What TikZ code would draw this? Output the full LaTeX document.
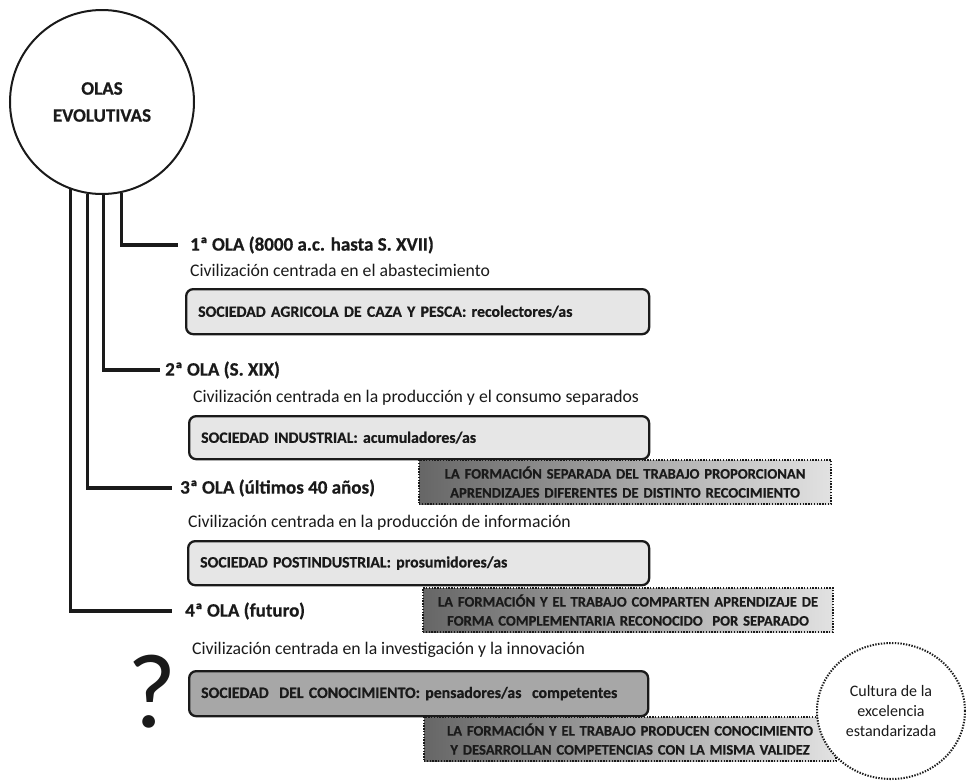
\documentclass[tikz,border=0pt]{standalone}
\usepackage{fontspec}
\setmainfont{Carlito}[BoldFeatures={FakeBold=0.6}]
\usetikzlibrary{shapes.geometric}

\definecolor{ink}{HTML}{1A1A1A}
\definecolor{boxfill}{HTML}{E6E6E6}
\definecolor{darkfill}{HTML}{A7A7A7}
\definecolor{shadeL}{HTML}{666666}
\definecolor{shadeR}{HTML}{E2E2E2}

\tikzset{
  conn/.style={line width=3.2pt, draw=ink},
  wavetitle/.style={anchor=west, inner sep=0pt, text=ink,
    font=\fontsize{19}{22}\selectfont\bfseries},
  civline/.style={anchor=west, inner sep=0pt, text=ink,
    font=\fontsize{17.7}{21}\selectfont},
  socbox/.style={draw=ink, line width=2.3pt, rounded corners=7pt, fill=boxfill,
    anchor=north west, inner xsep=12pt, inner ysep=0pt, align=left, text=ink,
    font=\fontsize{15.8}{18}\selectfont\bfseries},
  notebox/.style={draw=ink, line width=2.1pt, dash pattern=on 1.4pt off 1.4pt,
    left color=shadeL, right color=shadeR, anchor=north west,
    inner xsep=4pt, inner ysep=0pt, align=center, text=ink,
    font=\fontsize{14.6}{19}\selectfont\bfseries}
}

\begin{document}
\begin{tikzpicture}[x=1pt, y=-1pt]
  % canvas
  \fill[white] (0,0) rectangle (966,782);
  \useasboundingbox (0,0) rectangle (966,782);

  % central circle
  \node[circle, draw=ink, line width=2pt, fill=white, minimum size=184pt,
        align=center, text=ink, font=\fontsize{19}{27}\selectfont\bfseries]
        (olas) at (102,102) {OLAS\\EVOLUTIVAS};

  % wave titles
  \node[wavetitle] (t1) at (190,245) {1ª OLA (8000 a.c. hasta S. XVII)};
  \node[wavetitle] (t2) at (165,370) {2ª OLA (S. XIX)};
  \node[wavetitle] (t3) at (180,488) {3ª OLA (últimos 40 años)};
  \node[wavetitle] (t4) at (185,611) {4ª OLA (futuro)};

  % branches from the circle to each wave
  \draw[conn] (olas.-78)  |- ([xshift=-12pt]t1.west);
  \draw[conn] (olas.-89.4) |- ([xshift=-5pt]t2.west);
  \draw[conn] (olas.-99.4) |- ([xshift=-8pt]t3.west);
  \draw[conn] (olas.-110.4) |- ([xshift=-13pt]t4.west);

  % civilisation lines
  \node[civline] (c1) at (190,270) {Civilización centrada en el abastecimiento};
  \node[civline] (c2) at (193,398) {Civilización centrada en la producción y el consumo separados};
  \node[civline] (c3) at (188,523) {Civilización centrada en la producción de información};
  \node[civline] (c4) at (192,650) {Civilización centrada en la investigación y la innovación};

  % society boxes
  \node[socbox, text width=439pt, minimum height=45pt] (b1) at (185,288)
    {SOCIEDAD AGRICOLA DE CAZA Y PESCA: recolectores/as};
  \node[socbox, text width=436pt, minimum height=43pt] (b2) at (188,415)
    {SOCIEDAD INDUSTRIAL: acumuladores/as};
  \node[socbox, text width=437pt, minimum height=44pt] (b3) at (187,540)
    {SOCIEDAD POSTINDUSTRIAL: prosumidores/as};
  \node[socbox, fill=darkfill, text width=435pt, minimum height=45pt] (b4) at (188,670)
    {SOCIEDAD~~DEL CONOCIMIENTO: pensadores/as~~competentes};

  % learning notes
  \node[notebox, text width=404pt, minimum height=44pt] (n1) at (418,459)
    {LA FORMACIÓN SEPARADA DEL TRABAJO PROPORCIONAN\\APRENDIZAJES DIFERENTES DE DISTINTO RECOCIMIENTO};
  \node[notebox, text width=402pt, minimum height=44pt] (n2) at (422,587)
    {LA FORMACIÓN Y EL TRABAJO COMPARTEN APRENDIZAJE DE\\FORMA COMPLEMENTARIA RECONOCIDO~~POR SEPARADO};
  \node[notebox, text width=404pt, minimum height=44pt] (n3) at (423,716)
    {LA FORMACIÓN Y EL TRABAJO PRODUCEN CONOCIMIENTO\\Y DESARROLLAN COMPETENCIAS CON LA MISMA VALIDEZ};

  % open question
  \node[inner sep=0pt, text=ink, font=\fontsize{106}{106}\selectfont] (q) at (152,692) {?};

  % culture of excellence
  \node[ellipse, draw=ink, line width=2pt, dash pattern=on 1.4pt off 1.4pt, fill=white,
        minimum width=148pt, minimum height=136pt, align=center, text=ink,
        font=\fontsize{16}{20}\selectfont] (cult) at (891,711)
        {Cultura de la\\excelencia\\estandarizada};
\end{tikzpicture}
\end{document}
